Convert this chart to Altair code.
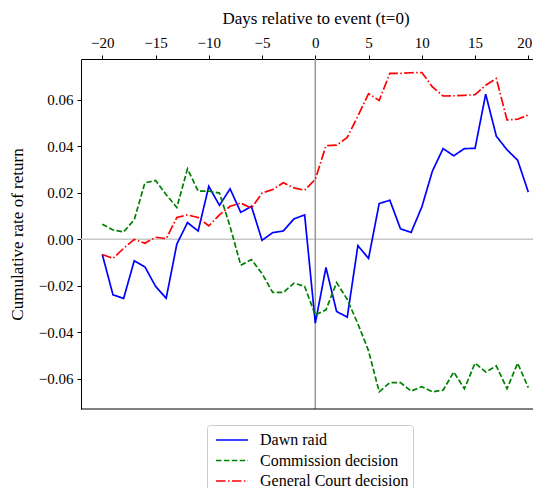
import altair as alt
import pandas as pd

days = list(range(-20, 21))
dawn_raid = [-0.0065, -0.0238, -0.0254, -0.0092, -0.0118, -0.0202, -0.0253, -0.0020, 0.0072, 0.0036,
             0.0228, 0.0146, 0.0217, 0.0116, 0.0142, -0.0004, 0.0029, 0.0036, 0.0088, 0.0105,
             -0.0360, -0.0121, -0.0310, -0.0334, -0.0027, -0.0082, 0.0154, 0.0168, 0.0045, 0.0030,
             0.0139, 0.0294, 0.0390, 0.0359, 0.0390, 0.0391, 0.0624, 0.0443, 0.0385, 0.0340, 0.0203]
commission = [0.0065, 0.0040, 0.0032, 0.0084, 0.0243, 0.0253, 0.0192, 0.0137, 0.0303, 0.0207,
              0.0207, 0.0199, 0.0055, -0.0111, -0.0087, -0.0147, -0.0228, -0.0228, -0.0188, -0.0202,
              -0.0325, -0.0303, -0.0186, -0.0258, -0.0363, -0.0479, -0.0655, -0.0616, -0.0616, -0.0652,
              -0.0633, -0.0655, -0.0648, -0.0570, -0.0642, -0.0532, -0.0570, -0.0544, -0.0642, -0.0532, -0.0637]
general_court = [-0.0065, -0.0082, -0.0039, 0.0000, -0.0017, 0.0009, 0.0003, 0.0094, 0.0105, 0.0094,
                 0.0058, 0.0105, 0.0142, 0.0156, 0.0134, 0.0199, 0.0214, 0.0243, 0.0221, 0.0211,
                 0.0258, 0.0402, 0.0405, 0.0438, 0.0530, 0.0626, 0.0597, 0.0713, 0.0713, 0.0716,
                 0.0717, 0.0655, 0.0616, 0.0617, 0.0619, 0.0622, 0.0662, 0.0691, 0.0513, 0.0516, 0.0535]

series_names = ["Dawn raid", "Commission decision", "General Court decision"]
series_values = [dawn_raid, commission, general_court]
series_colors = ["#0000ff", "#008000", "#ff0000"]
series_dashes = [[1, 0], [5.5, 2.4], [9.6, 2.4, 1.5, 2.4]]
x_ticks = [-20, -15, -10, -5, 0, 5, 10, 15, 20]
y_ticks = [-0.06, -0.04, -0.02, 0.0, 0.02, 0.04, 0.06]

rows = []
for name, vals in zip(series_names, series_values):
    for d, v in zip(days, vals):
        rows.append({"day": d, "value": v, "series": name})
df = pd.DataFrame(rows)

W, H = 452, 350
FONT = "Liberation Serif, DejaVu Serif, serif"

xscale = alt.Scale(domain=[-22, -22 + W / 10.65], nice=False, zero=False)
yscale = alt.Scale(domain=[-0.0729, 0.0775], nice=False, zero=False)

vline = alt.Chart(pd.DataFrame({"day": [0]})).mark_rule(color="#999999", strokeWidth=1.5).encode(
    x=alt.X("day:Q", scale=xscale)
)
hline = alt.Chart(pd.DataFrame({"value": [0.0]})).mark_rule(color="#c8c8c8", strokeWidth=1.5).encode(
    y=alt.Y("value:Q", scale=yscale)
)
bottom = alt.Chart(pd.DataFrame({"a": [0]})).mark_rule(color="black", strokeWidth=1).encode(
    x=alt.value(0), x2=alt.value(W), y=alt.value(H)
)

legend_kw = dict(title=None, orient="none", legendX=126, legendY=366,
                 symbolType="M-1.6,0H1.6", symbolSize=400, symbolStrokeWidth=1.7,
                 symbolOffset=10, labelOffset=17,
                 labelFontSize=16, labelFont=FONT, labelColor="black",
                 fillColor="white", strokeColor="#cccccc", cornerRadius=3,
                 padding=4, rowPadding=1.5)

lines = alt.Chart(df).mark_line(strokeWidth=1.7, clip=True).encode(
    x=alt.X("day:Q", scale=xscale,
            axis=alt.Axis(orient="top", values=x_ticks, title="Days relative to event (t=0)",
                          format="d", grid=False, tickSize=4, labelPadding=5, titlePadding=8,
                          titleX=234.5,
                          labelOffset={"condition": {"test": "datum.value === 20", "value": -4}, "value": 0})),
    y=alt.Y("value:Q", scale=yscale,
            axis=alt.Axis(values=y_ticks, format=".2f", title="Cumulative rate of return",
                          grid=False, tickSize=4, labelPadding=4, titlePadding=12)),
    color=alt.Color("series:N", scale=alt.Scale(domain=series_names, range=series_colors),
                    legend=alt.Legend(**legend_kw)),
    strokeDash=alt.StrokeDash("series:N", scale=alt.Scale(domain=series_names, range=series_dashes),
                              legend=alt.Legend(**legend_kw)),
    detail="series:N",
)

chart = alt.layer(hline, vline, lines, bottom).properties(
    width=W, height=H,
    autosize=alt.AutoSizeParams(type="none"),
    padding={"left": 73, "top": 51, "right": 0, "bottom": 79},
).configure_view(stroke=None).configure_axis(
    labelFont=FONT, titleFont=FONT, labelFontSize=15, titleFontSize=17,
    titleFontWeight="normal", labelColor="black", titleColor="black",
    domainColor="black", tickColor="black", domainWidth=1, tickWidth=1,
)

chart.save("out.html", embed_options={"renderer": "svg", "actions": False})
